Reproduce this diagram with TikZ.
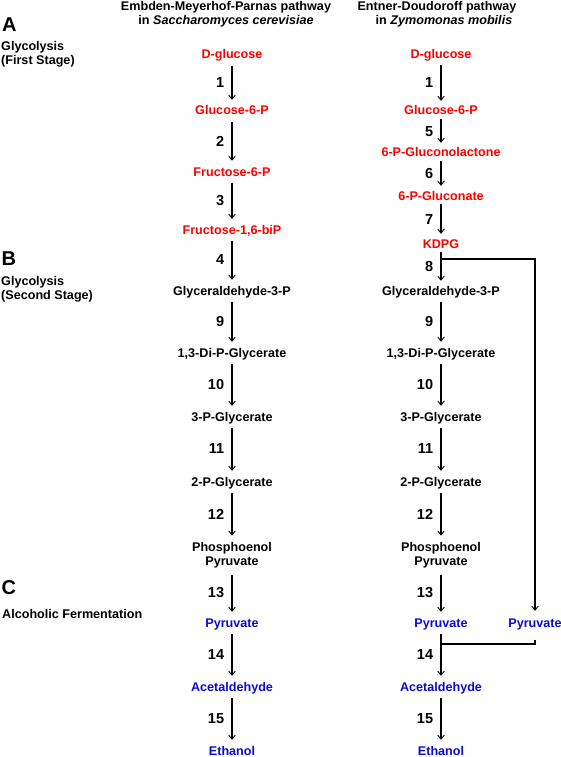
\documentclass[tikz,border=0pt]{standalone}
\usepackage{fontspec}
\setmainfont{Liberation Sans}
\usetikzlibrary{arrows.meta}
\definecolor{metred}{RGB}{255,0,0}
\definecolor{metblue}{RGB}{10,10,210}
\begin{document}
\begin{tikzpicture}[x=1pt,y=-1pt,
  every node/.style={inner sep=0pt, font=\fontsize{12.6}{14}\selectfont\bfseries},
  met/.style={anchor=base, text height=9pt, text depth=0pt},
  rmet/.style={met, text=metred},
  bmet/.style={met, text=metblue},
  shaft/.style={line width=1.8pt},
  arr/.style={shaft, -{Straight Barb[length=4pt,width=6.5pt,line width=0.9pt]}, shorten <=7pt, shorten >=6pt},
  arrs/.style={arr, shorten <=3.5pt, shorten >=5pt},
  num/.style={left=7pt, text=black, font=\fontsize{14.5}{16}\selectfont\bfseries},
  lab/.style={anchor=base west, align=left},
  big/.style={anchor=base west, font=\fontsize{20}{20}\selectfont\bfseries}
]
\useasboundingbox (0,0) rectangle (561,757);

% headers
\node[anchor=base, align=center] (hL) at (226,25) {Embden-Meyerhof-Parnas pathway\\in \textit{Saccharomyces cerevisiae}};
\node[anchor=base, align=center] (hR) at (437,25) {Entner-Doudoroff pathway\\\hspace*{14pt}in \textit{Zymomonas mobilis}};

% side labels
\node[big] (A) at (2,32) {A};
\node[lab] (Atxt) at (1,65) {Glycolysis\\(First Stage)};
\node[big] (B) at (1.5,265) {B};
\node[lab] (Btxt) at (1,299) {Glycolysis\\(Second Stage)};
\node[big] (C) at (1.5,594) {C};
\node[lab] (Ctxt) at (2,618) {Alcoholic Fermentation};

% left column (EMP)
\node[rmet] (L1) at (232,58.5) {D-glucose};
\node[rmet] (L2) at (232,115) {Glucose-6-P};
\node[rmet] (L3) at (232,176) {Fructose-6-P};
\node[rmet] (L4) at (232,234) {Fructose-1,6-biP};
\node[met] (L5) at (232,295) {Glyceraldehyde-3-P};
\node[met] (L6) at (232,357) {1,3-Di-P-Glycerate};
\node[met] (L7) at (232,421) {3-P-Glycerate};
\node[met] (L8) at (232,486) {2-P-Glycerate};
\node[anchor=base, align=center] (L9) at (232,565) {Phosphoenol\\Pyruvate};
\node[bmet] (L10) at (232,627) {Pyruvate};
\node[bmet] (L11) at (232,691) {Acetaldehyde};
\node[bmet] (L12) at (232,755) {Ethanol};

\draw[arr] (L1) -- node[num]{1} (L2);
\draw[arr] (L2) -- node[num]{2} (L3);
\draw[arr] (L3) -- node[num]{3} (L4);
\draw[arr] (L4) -- node[num]{4} (L5);
\draw[arr] (L5) -- node[num]{9} (L6);
\draw[arr] (L6) -- node[num]{10} (L7);
\draw[arr] (L7) -- node[num]{11} (L8);
\draw[arr] (L8) -- node[num]{12} (L9);
\draw[arr] (L9) -- node[num]{13} (L10);
\draw[arr] (L10) -- node[num]{14} (L11);
\draw[arr] (L11) -- node[num]{15} (L12);

% right column (ED)
\node[rmet] (R1) at (441,58.5) {D-glucose};
\node[rmet] (R2) at (441,115) {Glucose-6-P};
\node[rmet] (R3) at (441,157) {6-P-Gluconolactone};
\node[rmet] (R4) at (441,200) {6-P-Gluconate};
\node[rmet] (R5) at (441,248) {KDPG};
\node[met] (R6) at (441,295) {Glyceraldehyde-3-P};
\node[met] (R7) at (441,357) {1,3-Di-P-Glycerate};
\node[met] (R8) at (441,421) {3-P-Glycerate};
\node[met] (R9) at (441,486) {2-P-Glycerate};
\node[anchor=base, align=center] (R10) at (441,565) {Phosphoenol\\Pyruvate};
\node[bmet] (R11) at (441,627) {Pyruvate};
\node[bmet] (R12) at (441,691) {Acetaldehyde};
\node[bmet] (R13) at (441,755) {Ethanol};
\node[bmet] (RP) at (535,627) {Pyruvate};

\draw[arr, shorten <=6pt, shorten >=5pt] (R1) -- node[num]{1} (R2);
\draw[arrs] (R2) -- node[num]{5} (R3);
\draw[arrs] (R3) -- node[num]{6} (R4);
\draw[arrs] (R4) -- node[num]{7} (R5);
\draw[arrs] (R5) -- node[num]{8} (R6);
\draw[arr] (R6) -- node[num]{9} (R7);
\draw[arr] (R7) -- node[num]{10} (R8);
\draw[arr] (R8) -- node[num]{11} (R9);
\draw[arr] (R9) -- node[num]{12} (R10);
\draw[arr] (R10) -- node[num]{13} (R11);
\draw[arr] (R11) -- node[num]{14} (R12);
\draw[arr] (R12) -- node[num]{15} (R13);

% bypass from KDPG to the second pyruvate and back
\coordinate (br1) at (441,259);
\coordinate (br2) at (441,644);
\draw[arr, shorten <=0pt, shorten >=7pt] (br1) -| (RP.north);
\draw[shaft, shorten <=13pt] (RP.south) |- (br2);
\end{tikzpicture}
\end{document}
